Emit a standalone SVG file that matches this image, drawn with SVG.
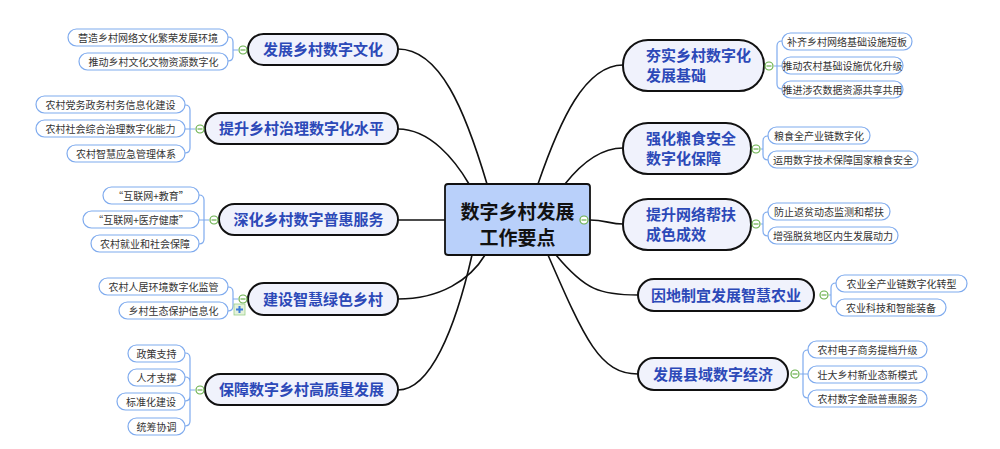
<svg xmlns="http://www.w3.org/2000/svg" width="1000" height="449" viewBox="0 0 1000 449">
<style>
text{font-family:"Noto Sans CJK SC","Noto Sans",sans-serif}
.m{fill:#f0f2fc;stroke:#111;stroke-width:2}
.mt{fill:#2c49b8;font-size:15px;font-weight:bold}
.l{fill:#fff;stroke:#7fabee;stroke-width:1.2}
.lt{fill:#333;font-size:10px}
.c{fill:none;stroke:#111;stroke-width:1.6}
.b{fill:none;stroke:#7fabee;stroke-width:1.2}
.o{fill:#fff;stroke:#6ab04c;stroke-width:1.2}
.ol{stroke:#6ab04c;stroke-width:1.2}
</style>
<rect width="1000" height="449" fill="#fff"/>
<g id="connectors">
<path class="c" d="M398,49 C440,49 465,110 487,184"/>
<path class="c" d="M398,129 C430,129 455,160 469,184"/>
<path class="c" d="M398,220 H445"/>
<path class="c" d="M398,299 C440,299 470,280 485,255"/>
<path class="c" d="M398,390 C430,390 455,330 472,255"/>
<path class="c" d="M623,65 C585,65 560,120 538,184"/>
<path class="c" d="M623,148 C600,148 580,165 565,184"/>
<path class="c" d="M590,220 C605,220 610,224 623,224"/>
<path class="c" d="M638,295 C600,295 585,290 556,255"/>
<path class="c" d="M638,374 C600,374 585,340 548,255"/>
<g class="b">
<path d="M238,50 H233 M233,50 V42 Q233,37 228,37 M233,50 V56 Q233,61 228,61"/>
<path d="M195,129 H190 M190,129 V110 Q190,105 185,105 M190,129 H185 M190,129 V148 Q190,153 185,153"/>
<path d="M209,220 H204 M204,220 V200 Q204,195 199,195 M204,220 H199 M204,220 V239 Q204,244 199,244"/>
<path d="M238,299 H233 M233,299 V292 Q233,287 228,287 M233,299 V306 Q233,311 228,311"/>
<path d="M195,390 H190 M190,390 V358 Q190,353 185,353 M190,390 V382 Q190,377 185,377 M190,390 V396 Q190,401 185,401 M190,390 V421 Q190,426 185,426"/>
<path d="M774,66 H777 M777,66 V46 Q777,41 782,41 M777,66 H782 M777,66 V84 Q777,89 782,89"/>
<path d="M761,149 H763 M763,149 V141 Q763,136 768,136 M763,149 V155 Q763,160 768,160"/>
<path d="M761,224 H763 M763,224 V217 Q763,212 768,212 M763,224 V231 Q763,236 768,236"/>
<path d="M829,295 H831 M831,295 V288 Q831,283 836,283 M831,295 V302 Q831,307 836,307"/>
<path d="M800,374 H803 M803,374 V355 Q803,350 808,350 M803,374 H808 M803,374 V393 Q803,398 808,398"/>
</g>
</g>
<g id="center">
<rect x="445" y="184" width="145" height="71" rx="3" fill="#b9d0fa" stroke="#111" stroke-width="1.8"/>
<text x="517.5" y="219" text-anchor="middle" font-size="19" font-weight="bold" fill="#111">数字乡村发展</text>
<text x="517.5" y="245" text-anchor="middle" font-size="19" font-weight="bold" fill="#111">工作要点</text>
<circle class="o" cx="584" cy="220" r="4"/><line class="ol" x1="581.5" y1="220" x2="586.5" y2="220"/>
</g>
<g id="n1">
<rect class="m" x="248" y="34" width="150" height="31" rx="15.5"/><text class="mt" x="323" y="55" text-anchor="middle">发展乡村数字文化</text>
<circle class="o" cx="243" cy="50" r="4"/><line class="ol" x1="240.5" y1="50" x2="245.5" y2="50"/>
<rect class="l" x="68" y="29" width="160" height="17" rx="8.5"/><text class="lt" x="148" y="41.5" text-anchor="middle">营造乡村网络文化繁荣发展环境</text>
<rect class="l" x="79" y="53" width="149" height="17" rx="8.5"/><text class="lt" x="153.5" y="65.5" text-anchor="middle">推动乡村文化文物资源数字化</text>
</g>
<g id="n2">
<rect class="m" x="205" y="113" width="193" height="31" rx="15.5"/><text class="mt" x="301.5" y="134" text-anchor="middle">提升乡村治理数字化水平</text>
<circle class="o" cx="200" cy="129" r="4"/><line class="ol" x1="197.5" y1="129" x2="202.5" y2="129"/>
<rect class="l" x="36" y="96" width="149" height="17" rx="8.5"/><text class="lt" x="110.5" y="108.5" text-anchor="middle">农村党务政务村务信息化建设</text>
<rect class="l" x="36" y="120" width="149" height="17" rx="8.5"/><text class="lt" x="110.5" y="132.5" text-anchor="middle">农村社会综合治理数字化能力</text>
<rect class="l" x="67" y="145" width="118" height="17" rx="8.5"/><text class="lt" x="126" y="157.5" text-anchor="middle">农村智慧应急管理体系</text>
</g>
<g id="n3">
<rect class="m" x="219" y="204" width="179" height="31" rx="15.5"/><text class="mt" x="308.5" y="225" text-anchor="middle">深化乡村数字普惠服务</text>
<circle class="o" cx="214" cy="220" r="4"/><line class="ol" x1="211.5" y1="220" x2="216.5" y2="220"/>
<rect class="l" x="103" y="187" width="96" height="17" rx="8.5"/><text class="lt" x="151" y="199.5" text-anchor="middle">“互联网+教育”</text>
<rect class="l" x="83" y="211" width="116" height="17" rx="8.5"/><text class="lt" x="141" y="223.5" text-anchor="middle">“互联网+医疗健康”</text>
<rect class="l" x="91" y="235" width="108" height="17" rx="8.5"/><text class="lt" x="145" y="247.5" text-anchor="middle">农村就业和社会保障</text>
</g>
<g id="n4">
<rect class="m" x="248" y="283" width="150" height="32" rx="16"/><text class="mt" x="323" y="304.5" text-anchor="middle">建设智慧绿色乡村</text>
<circle class="o" cx="243" cy="299" r="4"/><line class="ol" x1="240.5" y1="299" x2="245.5" y2="299"/>
<rect x="234" y="304" width="11" height="11" fill="#e4f2dc" stroke="#9ccf88" stroke-width="0.8"/>
<path d="M239.5,306 V313 M236,309.5 H243" stroke="#3a7ad8" stroke-width="2"/>
<rect class="l" x="99" y="278" width="129" height="17" rx="8.5"/><text class="lt" x="163.5" y="290.5" text-anchor="middle">农村人居环境数字化监管</text>
<rect class="l" x="119" y="302" width="109" height="17" rx="8.5"/><text class="lt" x="173.5" y="314.5" text-anchor="middle">乡村生态保护信息化</text>
</g>
<g id="n5">
<rect class="m" x="205" y="374" width="193" height="31" rx="15.5"/><text class="mt" x="301.5" y="395" text-anchor="middle">保障数字乡村高质量发展</text>
<circle class="o" cx="200" cy="390" r="4"/><line class="ol" x1="197.5" y1="390" x2="202.5" y2="390"/>
<rect class="l" x="128" y="345" width="57" height="17" rx="8.5"/><text class="lt" x="156.5" y="357.5" text-anchor="middle">政策支持</text>
<rect class="l" x="128" y="369" width="57" height="17" rx="8.5"/><text class="lt" x="156.5" y="381.5" text-anchor="middle">人才支撑</text>
<rect class="l" x="117" y="393" width="68" height="17" rx="8.5"/><text class="lt" x="151" y="405.5" text-anchor="middle">标准化建设</text>
<rect class="l" x="128" y="418" width="57" height="17" rx="8.5"/><text class="lt" x="156.5" y="430.5" text-anchor="middle">统筹协调</text>
</g>
<g id="n6">
<rect class="m" x="623" y="40" width="141" height="51" rx="25"/>
<text class="mt" x="646" y="61">夯实乡村数字化</text><text class="mt" x="646" y="81">发展基础</text>
<circle class="o" cx="769" cy="66" r="4"/><line class="ol" x1="766.5" y1="66" x2="771.5" y2="66"/>
<rect class="l" x="782" y="33" width="130" height="17" rx="8.5"/><text class="lt" x="847" y="45.5" text-anchor="middle">补齐乡村网络基础设施短板</text>
<rect class="l" x="782" y="57" width="121" height="17" rx="8.5"/><text class="lt" x="842.5" y="69.5" text-anchor="middle">推动农村基础设施优化升级</text>
<rect class="l" x="782" y="81" width="121" height="17" rx="8.5"/><text class="lt" x="842.5" y="93.5" text-anchor="middle">推进涉农数据资源共享共用</text>
</g>
<g id="n7">
<rect class="m" x="623" y="123" width="128" height="51" rx="25"/>
<text class="mt" x="646" y="144">强化粮食安全</text><text class="mt" x="646" y="164">数字化保障</text>
<circle class="o" cx="756" cy="149" r="4"/><line class="ol" x1="753.5" y1="149" x2="758.5" y2="149"/>
<rect class="l" x="768" y="127" width="102" height="17" rx="8.5"/><text class="lt" x="819" y="139.5" text-anchor="middle">粮食全产业链数字化</text>
<rect class="l" x="768" y="151" width="150" height="17" rx="8.5"/><text class="lt" x="843" y="163.5" text-anchor="middle">运用数字技术保障国家粮食安全</text>
</g>
<g id="n8">
<rect class="m" x="623" y="199" width="128" height="51" rx="25"/>
<text class="mt" x="646" y="220">提升网络帮扶</text><text class="mt" x="646" y="240">成色成效</text>
<circle class="o" cx="756" cy="224" r="4"/><line class="ol" x1="753.5" y1="224" x2="758.5" y2="224"/>
<rect class="l" x="768" y="203" width="122" height="17" rx="8.5"/><text class="lt" x="829" y="215.5" text-anchor="middle">防止返贫动态监测和帮扶</text>
<rect class="l" x="768" y="227" width="130" height="17" rx="8.5"/><text class="lt" x="833" y="239.5" text-anchor="middle">增强脱贫地区内生发展动力</text>
</g>
<g id="n9">
<rect class="m" x="638" y="279" width="176" height="32" rx="16"/><text class="mt" x="726" y="300.5" text-anchor="middle">因地制宜发展智慧农业</text>
<circle class="o" cx="824" cy="295" r="4"/><line class="ol" x1="821.5" y1="295" x2="826.5" y2="295"/>
<rect class="l" x="836" y="275" width="131" height="17" rx="8.5"/><text class="lt" x="901.5" y="287.5" text-anchor="middle">农业全产业链数字化转型</text>
<rect class="l" x="836" y="299" width="110" height="17" rx="8.5"/><text class="lt" x="891" y="311.5" text-anchor="middle">农业科技和智能装备</text>
</g>
<g id="n10">
<rect class="m" x="638" y="358" width="150" height="32" rx="16"/><text class="mt" x="713" y="379.5" text-anchor="middle">发展县域数字经济</text>
<circle class="o" cx="795" cy="374" r="4"/><line class="ol" x1="792.5" y1="374" x2="797.5" y2="374"/>
<rect class="l" x="808" y="341" width="119" height="17" rx="8.5"/><text class="lt" x="867.5" y="353.5" text-anchor="middle">农村电子商务提档升级</text>
<rect class="l" x="808" y="366" width="119" height="17" rx="8.5"/><text class="lt" x="867.5" y="378.5" text-anchor="middle">壮大乡村新业态新模式</text>
<rect class="l" x="808" y="390" width="119" height="17" rx="8.5"/><text class="lt" x="867.5" y="402.5" text-anchor="middle">农村数字金融普惠服务</text>
</g>
</svg>
